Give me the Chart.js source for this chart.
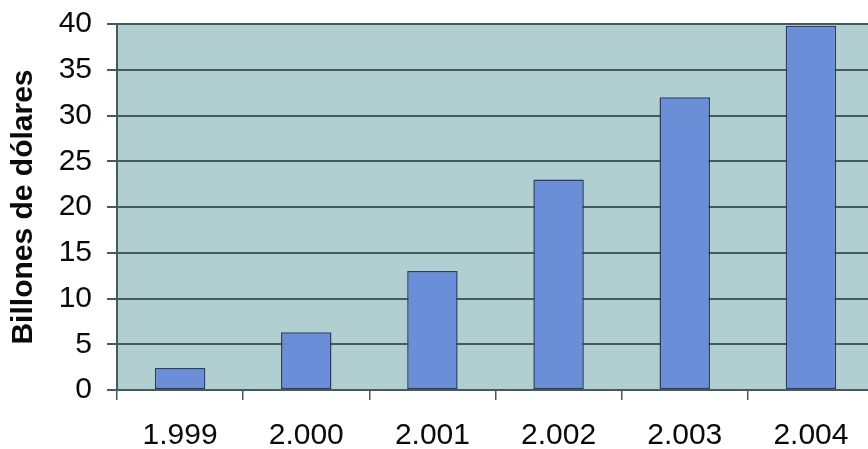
<!DOCTYPE html>
<html>
<head>
<meta charset="utf-8">
<script src="https://cdn.jsdelivr.net/npm/chart.js@4/dist/chart.umd.min.js"></script>
<style>
  html, body { margin: 0; padding: 0; background: #ffffff; overflow: hidden; }
  #wrap { width: 874px; height: 449px; }
</style>
</head>
<body>
<div id="wrap"><canvas id="c" width="874" height="449"></canvas></div>
<script>
// Años y montos (billones de dólares)
const years = ['1.999', '2.000', '2.001', '2.002', '2.003', '2.004'];
const amounts = [2.4, 6.3, 13, 23, 32, 39.8];
const yTicks = [0, 5, 10, 15, 20, 25, 30, 35, 40];
const yTitle = 'Billones de dólares';

const PLOT_BG = '#b1cfd0';
const LINE = '#445b5d';
const FONT = "'Liberation Sans', Arial, sans-serif";

// fondo del área de trazado
const plotBackground = {
  id: 'plotBackground',
  beforeDraw(chart) {
    const { ctx, chartArea: a } = chart;
    ctx.save();
    ctx.fillStyle = PLOT_BG;
    ctx.fillRect(a.left, a.top, a.right - a.left, a.bottom - a.top);
    ctx.restore();
  }
};

new Chart(document.getElementById('c'), {
  type: 'bar',
  data: {
    labels: years,
    datasets: [{
      data: amounts,
      backgroundColor: '#6a8fd8',
      borderColor: '#2c3d66',
      borderWidth: 1.5,
      borderSkipped: false,
      barPercentage: 0.4,
      categoryPercentage: 1.0
    }]
  },
  options: {
    responsive: false,
    animation: false,
    layout: { padding: { top: 24, right: 0, left: 0, bottom: 0 } },
    plugins: { legend: { display: false }, tooltip: { enabled: false } },
    scales: {
      x: {
        offset: true,
        grid: {
          offset: true,
          drawOnChartArea: false,
          drawTicks: true,
          tickLength: 10,
          color: LINE,
          lineWidth: 1.5
        },
        border: { display: true, color: LINE, width: 2 },
        ticks: {
          color: '#0a0a0a',
          font: { family: FONT, size: 30 },
          padding: 18,
          maxRotation: 0
        },
        afterFit(scale) {
          scale.height = 59;
          scale.paddingLeft = 0;
          scale.paddingRight = 0;
        }
      },
      y: {
        min: 0,
        max: 40,
        afterBuildTicks(scale) { scale.ticks = yTicks.map(v => ({ value: v })); },
        grid: {
          color: LINE,
          lineWidth: 2,
          drawTicks: true,
          tickLength: 10
        },
        border: { display: true, color: LINE, width: 2 },
        ticks: {
          color: '#0a0a0a',
          font: { family: FONT, size: 30 },
          padding: 15
        },
        title: {
          display: true,
          text: yTitle,
          color: '#0a0a0a',
          font: { family: FONT, size: 30, weight: 'bold' },
          padding: { top: 6, bottom: 0 }
        },
        afterFit(scale) {
          scale.width = 117;
          scale.paddingTop = 0;
          scale.paddingBottom = 0;
        }
      }
    }
  },
  plugins: [plotBackground]
});
</script>
</body>
</html>
